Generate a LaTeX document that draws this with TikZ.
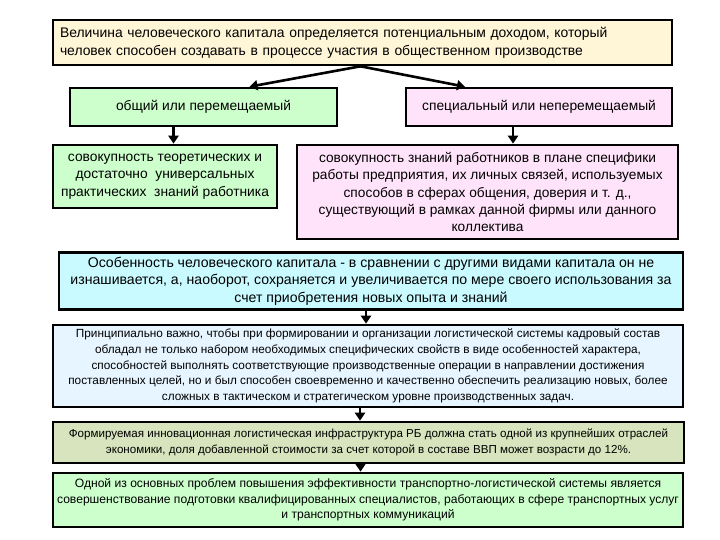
\documentclass[tikz,border=0pt]{standalone}
\usepackage{fontspec}
\setmainfont{Liberation Sans}
\usetikzlibrary{arrows.meta}
\definecolor{fff5d7}{rgb}{1.,0.961,0.843}
\definecolor{ccffcc}{rgb}{0.8,1.,0.8}
\definecolor{ffe3fa}{rgb}{1.,0.890,0.980}
\definecolor{c8faff}{rgb}{0.784,0.980,1.}
\definecolor{e6f5ff}{rgb}{0.902,0.961,1.}
\definecolor{d7e4bd}{rgb}{0.843,0.894,0.741}

\begin{document}
\begin{tikzpicture}[x=1pt,y=-1pt,line cap=round,
    box/.style={draw=black,line width=2.6pt,line join=miter,inner xsep=1pt,inner ysep=2pt,align=center},
    arr/.style={line width=2.6pt,-{Triangle[width=10pt,length=8pt]}}]
    \useasboundingbox (0,0) rectangle (720,540);
    \node[box,fill=fff5d7,minimum width=619pt,minimum height=45pt,text width=605pt,align=left,font=\fontsize{13.9}{18}\selectfont] (top) at (362.5,42.5) {Величина человеческого капитала определяется потенциальным доходом, который\\человек способен создавать в процессе участия в общественном производстве};
    \node[box,fill=ccffcc,minimum width=267pt,minimum height=38pt,font=\fontsize{13.8}{17}\selectfont] (gen) at (203.5,107) {общий или перемещаемый};
    \node[box,fill=ffe3fa,minimum width=266pt,minimum height=38pt,font=\fontsize{13.8}{17}\selectfont] (spec) at (539,107) {специальный или неперемещаемый};
    \node[box,fill=ccffcc,minimum width=224pt,minimum height=63pt,font=\fontsize{13.8}{17.3}\selectfont] (genk) at (165,176.5) {совокупность теоретических и\\достаточно \ универсальных\\практических \ знаний работника};
    \node[box,fill=ffe3fa,minimum width=381pt,minimum height=94pt,font=\fontsize{13.7}{17.3}\selectfont] (speck) at (487.5,192) {совокупность знаний работников в плане специфики\\работы предприятия, их личных связей, используемых\\способов в сферах общения, доверия и т. д.,\\существующий в рамках данной фирмы или данного\\коллектива};
    \node[box,fill=c8faff,minimum width=624pt,minimum height=57pt,font=\fontsize{14.1}{17.5}\selectfont] (feat) at (371,281) {Особенность человеческого капитала - в сравнении с другими видами капитала он не\\изнашивается, а, наоборот, сохраняется и увеличивается по мере своего использования за\\счет приобретения новых опыта и знаний};
    \node[box,fill=e6f5ff,minimum width=630pt,minimum height=82pt,font=\fontsize{11.8}{15.7}\selectfont] (princ) at (368,366) {Принципиально важно, чтобы при формировании и организации логистической системы кадровый состав\\обладал не только набором необходимых специфических свойств в виде особенностей характера,\\способностей выполнять соответствующие производственные операции в направлении достижения\\поставленных целей, но и был способен своевременно и качественно обеспечить реализацию новых, более\\сложных в тактическом и стратегическом уровне производственных задач.};
    \node[box,fill=d7e4bd,minimum width=631pt,minimum height=41pt,font=\fontsize{11.6}{16}\selectfont] (infra) at (368.5,442.5) {Формируемая инновационная логистическая инфраструктура РБ должна стать одной из крупнейших отраслей\\экономики, доля добавленной стоимости за счет которой в составе ВВП может возрасти до 12\%.};
    \node[box,fill=ccffcc,minimum width=630pt,minimum height=54pt,font=\fontsize{12.1}{15.3}\selectfont] (probl) at (368,500) {Одной из основных проблем повышения эффективности транспортно-логистической системы является\\совершенствование подготовки квалифицированных специалистов, работающих в сфере транспортных услуг\\и транспортных коммуникаций};
    % arrows
    \draw[arr] ([xshift=-2pt]top.south) -- ([xshift=46pt]gen.north);
    \draw[arr] ([xshift=-2pt]top.south) -- ([xshift=-74pt]spec.north);
    \draw[arr] ([xshift=-30pt]gen.south) -- ([xshift=-30pt]gen.south |- genk.north);
    \draw[arr] ([xshift=-26pt]spec.south) -- ([xshift=-26pt]spec.south |- speck.north);
    \draw[arr] ([xshift=-5pt]feat.south) -- ([xshift=-5pt]feat.south |- princ.north);
    \draw[arr] ([xshift=-8pt]princ.south) -- ([xshift=-8pt]princ.south |- infra.north);
    \draw[arr] ([xshift=-8pt]infra.south) -- ([xshift=-8pt]infra.south |- probl.north);
\end{tikzpicture}
\end{document}
